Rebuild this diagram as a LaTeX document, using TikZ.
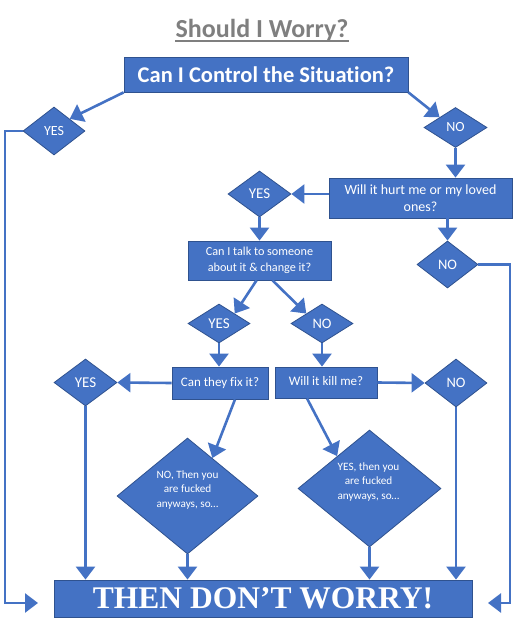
\documentclass[tikz,border=0pt]{standalone}
\usepackage{fontspec}
\setmainfont{Carlito}[Ligatures=NoCommon]
\newfontfamily\timesfont{Liberation Serif}
\usetikzlibrary{arrows.meta,shapes.geometric,calc}
\definecolor{boxblue}{HTML}{4472C4}
\definecolor{boxline}{HTML}{2F528F}
\definecolor{titlegray}{HTML}{7F7F7F}
\newcommand{\fs}[2]{\fontsize{#1}{#2}\selectfont}
\begin{document}
\begin{tikzpicture}[x=1pt,y=-1pt,
 box/.style={rectangle,fill=boxblue,draw=boxline,line width=0.8pt,text=white,inner sep=0pt,align=center},
 dia/.style={diamond,aspect=1,fill=boxblue,draw=boxline,line width=0.8pt,text=white,inner sep=0pt},
 arr/.style={draw=boxblue,line width=2.6pt,-{Triangle[width=19pt,length=13pt]}},
 lbl/.style={text=white,inner sep=0pt,align=center}]
\useasboundingbox (0,0) rectangle (518,626);

% title
\node[inner sep=0pt,text=titlegray,font=\fs{26}{30}\bfseries] (title) at (262,30) {Should I Worry?};
\draw[titlegray,line width=1.2pt] ($(title.base west)+(0,4)$) -- ($(title.base east)+(0,4)$);

% boxes
\node[box,minimum width=284pt,minimum height=35pt,font=\fs{22.5}{26}\bfseries] (ctrl) at (266,74.5) {Can I Control the Situation?};
\node[box,minimum width=183pt,minimum height=40pt,font=\fs{14}{17}] (hurt) at (420.5,198) {Will it hurt me or my loved\\ones?};
\node[box,minimum width=143pt,minimum height=39pt,font=\fs{12.2}{16}] (talk) at (259.5,260.5) {Can I talk to someone\\about it \& change it?};
\node[box,minimum width=96pt,minimum height=32pt,font=\fs{13}{15}] (fix) at (220,383) {\raisebox{1.5pt}{Can they fix it?}};
\node[box,minimum width=102pt,minimum height=31pt,font=\fs{13}{15}] (kill) at (326,382.5) {\raisebox{3pt}{Will it kill me?}};
\node[box,minimum width=418pt,minimum height=37pt,font=\fs{31.5}{34}\timesfont\bfseries] (dont) at (263,598.5) {THEN DON’T WORRY!};

% diamonds
\node[dia,minimum width=62pt,minimum height=48pt,font=\fs{14}{16}] (y1) at (54,131) {YES};
\node[dia,minimum width=63pt,minimum height=40pt,font=\fs{14}{16}] (n1) at (455.5,127.5) {NO};
\node[dia,minimum width=63pt,minimum height=46pt,font=\fs{15}{17}] (y2) at (259.5,194) {YES};
\node[dia,minimum width=61pt,minimum height=47pt,font=\fs{14.5}{17}] (n2) at (447.5,264.5) {NO};
\node[dia,minimum width=62pt,minimum height=39pt,font=\fs{15}{17}] (y3) at (219,323.5) {YES};
\node[dia,minimum width=62pt,minimum height=39pt,font=\fs{14.5}{17}] (n3) at (322,323.5) {NO};
\node[dia,minimum width=63pt,minimum height=47pt,font=\fs{15}{17}] (y4) at (85.5,382.5) {YES};
\node[dia,minimum width=62pt,minimum height=48pt,font=\fs{14.5}{17}] (n4) at (456,383) {NO};
\node[dia,minimum width=141pt,minimum height=116pt] (bn) at (187.5,496) {};
\node[dia,minimum width=143pt,minimum height=117pt] (by) at (369.5,488.5) {};
\node[lbl,font=\fs{11.2}{14.5}] (bnt) at (187.5,490) {NO, Then you\\are fucked\\anyways, so…};
\node[lbl,font=\fs{11.2}{14.5}] (byt) at (368.5,482) {YES, then you\\are fucked\\anyways, so…};

% helper coordinates
\coordinate (lc) at (5,603);
\coordinate (lt) at (38,603);
\coordinate (rc) at (510,603);
\coordinate (rt) at (488,603);

% connectors
\draw[arr] (ctrl.south west) -- (y1.north east);
\draw[arr] (ctrl.south east) -- (n1.north west);
\draw[arr] (n1.south) -- (hurt.north -| n1.south);
\draw[arr] (y2.east -| hurt.west) -- (y2.east);
\draw[arr] (y2.south) -- (talk.north -| y2.south);
\draw[arr] (n2.north |- hurt.south) -- (n2.north);
\draw[arr] (y1.west) -| (lc) -- (lt);
\draw[arr] (n2.east) -| (rc) -- (rt);
\draw[arr] ($(talk.south)+(-3,0)$) -- (y3.north east);
\draw[arr] ($(talk.south)+(13,0)$) -- ($(n3.north)!0.5!(n3.west)$);
\draw[arr] (y3.south) -- (fix.north -| y3.south);
\draw[arr] (n3.south) -- (kill.north -| n3.south);
\draw[arr] (fix.west) -- (y4.east);
\draw[arr] (kill.east) -- (n4.west);
\draw[arr] (y4.south) -- (dont.north -| y4.south);
\draw[arr] (n4.south) -- (dont.north -| n4.south);
\draw[arr] ($(fix.south)+(15,0)$) -- ($(bn.north)!0.35!(bn.east)$);
\draw[arr] ($(kill.south)+(-19,0)$) -- ($(by.north)!0.45!(by.west)$);
\draw[arr] (bn.south) -- (dont.north -| bn.south);
\draw[arr] (by.south) -- (dont.north -| by.south);
\end{tikzpicture}
\end{document}
